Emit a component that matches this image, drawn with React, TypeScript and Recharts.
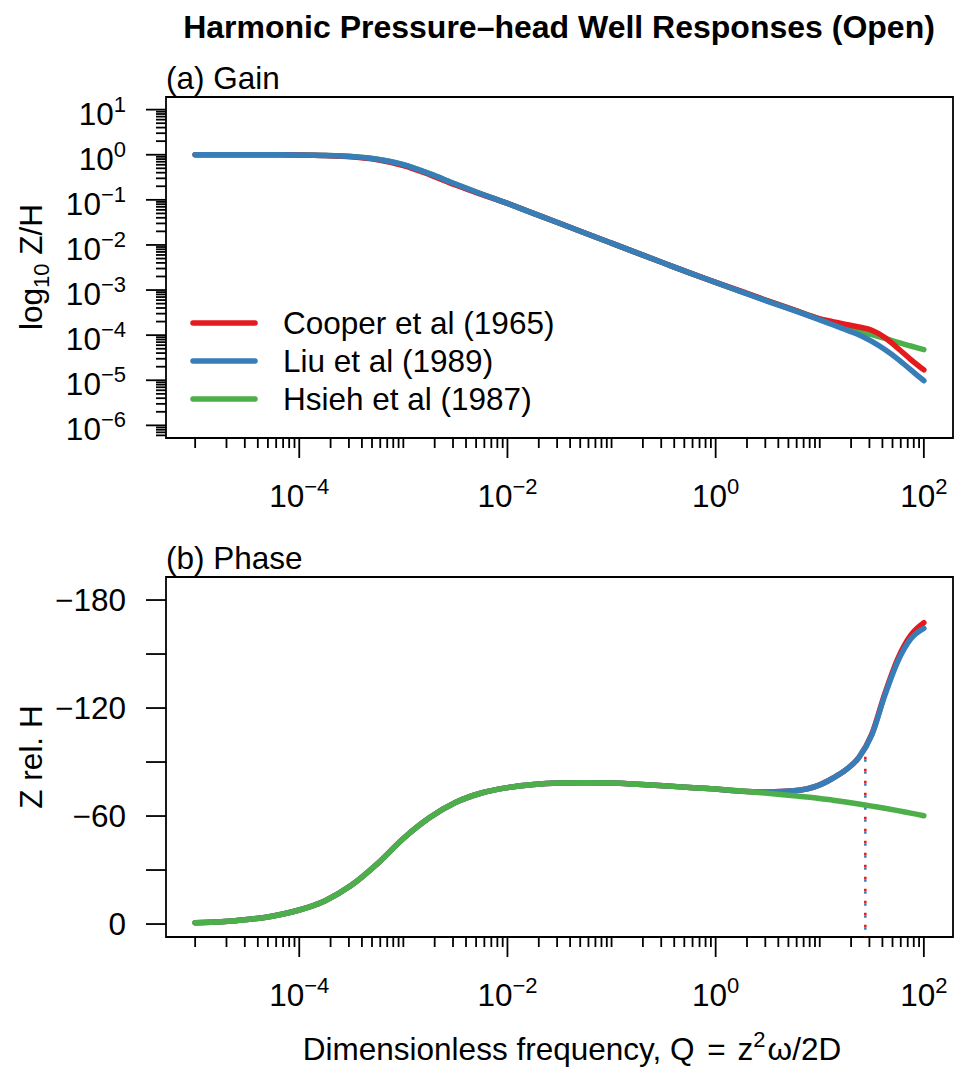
import React from 'react';
import {
  LineChart,
  Line,
  XAxis,
  YAxis,
  ReferenceArea,
  ReferenceLine,
  Legend,
} from 'recharts';

// log10 of dimensionless frequency Q
const logQ = [
  -5, -4.75, -4.5, -4.25, -4, -3.75, -3.5, -3.25, -3, -2.75, -2.5, -2.25, -2,
  -1.75, -1.5, -1.25, -1, -0.75, -0.5, -0.25, 0, 0.25, 0.5, 0.75, 1,
  1.125, 1.25, 1.375, 1.5, 1.625, 1.75, 1.875, 2,
];

// log10 gain Z/H
const cooperGain = [
  0, 0, 0, -0.002, -0.006, -0.018, -0.045, -0.11, -0.24, -0.44, -0.67, -0.88, -1.08,
  -1.3, -1.52, -1.74, -1.96, -2.18, -2.4, -2.62, -2.83, -3.03, -3.24, -3.44, -3.64,
  -3.7, -3.76, -3.82, -3.89, -4.05, -4.29, -4.54, -4.77,
];
const liuGain = [
  0, 0, 0, -0.002, -0.005, -0.015, -0.04, -0.1, -0.22, -0.42, -0.65, -0.87, -1.08,
  -1.3, -1.52, -1.74, -1.96, -2.18, -2.4, -2.62, -2.83, -3.04, -3.25, -3.45, -3.66,
  -3.77, -3.88, -3.99, -4.14, -4.32, -4.53, -4.77, -5.01,
];
const hsiehGain = [
  0, 0, 0, -0.002, -0.005, -0.015, -0.04, -0.1, -0.22, -0.42, -0.65, -0.87, -1.08,
  -1.3, -1.52, -1.74, -1.96, -2.18, -2.4, -2.62, -2.83, -3.04, -3.24, -3.44, -3.64,
  -3.73, -3.82, -3.91, -3.99, -4.07, -4.16, -4.24, -4.32,
];

// phase of Z relative to H, degrees
const cooperPhase = [
  -0.7, -1.3, -2.5, -4.5, -7.8, -13, -21.5, -33.5, -47.5, -59, -67.5, -72.8, -75.8,
  -77.5, -78.3, -78.5, -78.3, -77.6, -76.8, -75.9, -75, -73.8, -73.4, -74, -77.3,
  -81, -85.6, -92.5, -105.5, -128, -147.5, -160.5, -167.4,
];
const liuPhase = [
  -0.7, -1.3, -2.5, -4.5, -7.8, -13, -21.5, -33.5, -47.5, -59, -67.5, -72.8, -75.8,
  -77.5, -78.3, -78.5, -78.3, -77.6, -76.8, -75.9, -75, -73.8, -73.4, -74, -77.3,
  -81, -85.6, -92.5, -105, -127, -146, -158.5, -164.3,
];
const hsiehPhase = [
  -0.7, -1.3, -2.5, -4.5, -7.8, -13, -21.5, -33.5, -47.5, -59, -67.5, -72.8, -75.8,
  -77.5, -78.3, -78.5, -78.3, -77.6, -76.8, -75.9, -75, -73.9, -72.7, -71.3, -69.8,
  -68.8, -67.8, -66.7, -65.5, -64.3, -63, -61.6, -60.2,
];

// dotted marker on the phase panel
const markerQ = 27.4;
const cooperMarkerTop = -93;
const liuMarkerTop = -91.5;

const seriesNames = ['Cooper et al (1965)', 'Liu et al (1989)', 'Hsieh et al (1987)'];
const seriesColors = ['#E41A1C', '#377EB8', '#4DAF4A'];

const xDecades = [-5, -4, -3, -2, -1, 0, 1];
const xLabelExps = [-4, -2, 0, 2];
const gainDecades = [-7, -6, -5, -4, -3, -2, -1, 0];
const gainLabelExps = [-6, -5, -4, -3, -2, -1, 0, 1];
const phaseTicks = [-180, -150, -120, -90, -60, -30, 0];
const phaseLabels = [-180, -120, -60, 0];

const X_DOMAIN = [10 ** -5.28, 10 ** 2.28];
const GAIN_DOMAIN = [10 ** -6.28, 10 ** 1.28];
const PHASE_DOMAIN = [-192.8, 7.2];

const FONT = '"Liberation Sans", Arial, Helvetica, sans-serif';
const FS = 31.5;
const SUP = 22;

const inDomain = (v: number, d: number[]) => v >= d[0] && v <= d[1];

const xTicks: number[] = [];
xDecades.forEach((e) => {
  for (let k = 1; k <= 9; k++) xTicks.push(k * 10 ** e);
});
xTicks.push(100);

const gainTicks: number[] = [];
gainDecades.forEach((e) => {
  for (let k = 1; k <= 9; k++) {
    const v = k * 10 ** e;
    if (inDomain(v, GAIN_DOMAIN)) gainTicks.push(v);
  }
});
gainTicks.push(10);

const gainData = logQ.map((lq, i) => ({
  q: 10 ** lq,
  cooper: 10 ** cooperGain[i],
  liu: 10 ** liuGain[i],
  hsieh: 10 ** hsiehGain[i],
}));

const phaseData = logQ.map((lq, i) => ({
  q: 10 ** lq,
  cooper: cooperPhase[i],
  liu: liuPhase[i],
  hsieh: hsiehPhase[i],
}));

const expOf = (v: number) => {
  const l = Math.log10(v);
  const r = Math.round(l);
  return Math.abs(l - r) < 1e-6 ? r : null;
};
const expText = (e: number) => `${e < 0 ? '\u2212' : ''}${Math.abs(e)}`;

const XTick = (props: any) => {
  const { x, y, payload } = props;
  const e = expOf(payload.value);
  const labelled = e !== null && xLabelExps.includes(e);
  return (
    <g>
      <line x1={x} x2={x} y1={y} y2={y + (labelled ? 20 : 10)} stroke="#000" strokeWidth={1.8} />
      {labelled && (
        <text x={x} y={y + 69} textAnchor="middle" fontSize={FS} fontFamily={FONT} fill="#000">
          10
          <tspan dy={-13} fontSize={SUP}>{expText(e as number)}</tspan>
        </text>
      )}
    </g>
  );
};

const GainTick = (props: any) => {
  const { x, y, payload } = props;
  const e = expOf(payload.value);
  const labelled = e !== null && gainLabelExps.includes(e);
  return (
    <g>
      <line x1={x} x2={x - (labelled ? 20 : 10)} y1={y} y2={y} stroke="#000" strokeWidth={1.8} />
      {labelled && (
        <text x={x - 40} y={y + 15} textAnchor="end" fontSize={FS} fontFamily={FONT} fill="#000">
          10
          <tspan dy={-13} fontSize={SUP}>{expText(e as number)}</tspan>
        </text>
      )}
    </g>
  );
};

const PhaseTick = (props: any) => {
  const { x, y, payload } = props;
  const v = payload.value;
  return (
    <g>
      <line x1={x} x2={x - 20} y1={y} y2={y} stroke="#000" strokeWidth={1.8} />
      {phaseLabels.includes(v) && (
        <text x={x - 40} y={y + 11} textAnchor="end" fontSize={FS} fontFamily={FONT} fill="#000">
          {v < 0 ? `\u2212${Math.abs(v)}` : v}
        </text>
      )}
    </g>
  );
};

const GainLegend = () => (
  <svg width={440} height={120} style={{ display: 'block' }}>
    {seriesNames.map((name, i) => (
      <g key={name}>
        <line
          x1={13}
          x2={75}
          y1={23 + i * 38}
          y2={23 + i * 38}
          stroke={seriesColors[i]}
          strokeWidth={5.5}
          strokeLinecap="round"
        />
        <text x={103} y={34 + i * 38} fontSize={FS} fontFamily={FONT} fill="#000">
          {name}
        </text>
      </g>
    ))}
  </svg>
);

const xAxisProps = {
  dataKey: 'q',
  type: 'number' as const,
  scale: 'log' as const,
  domain: X_DOMAIN,
  allowDataOverflow: true,
  ticks: xTicks,
  interval: 0 as const,
  tick: XTick,
  tickLine: false,
  axisLine: false,
  tickSize: 0,
  tickMargin: 0,
};

const lineProps = {
  type: 'monotone' as const,
  dot: false,
  activeDot: false,
  strokeWidth: 5.5,
  strokeLinecap: 'round' as const,
  isAnimationActive: false,
};

const App: React.FC = () => {
  return (
    <div style={{ position: 'absolute', left: 0, top: 0, width: 958, height: 1086, background: '#fff' }}>
      <div style={{ position: 'absolute', left: 0, top: 0 }}>
        <LineChart width={958} height={520} data={gainData} margin={{ top: 97, right: 5, bottom: 0, left: 0 }}>
          <XAxis {...xAxisProps} height={82} />
          <YAxis
            type="number"
            scale="log"
            domain={GAIN_DOMAIN}
            allowDataOverflow
            ticks={gainTicks}
            interval={0}
            tick={GainTick}
            tickLine={false}
            axisLine={false}
            tickSize={0}
            tickMargin={0}
            width={166}
          />
          <ReferenceArea
            x1={X_DOMAIN[0]}
            x2={X_DOMAIN[1]}
            y1={GAIN_DOMAIN[0]}
            y2={GAIN_DOMAIN[1]}
            fill="none"
            fillOpacity={0}
            stroke="#000"
            strokeWidth={1.8}
            ifOverflow="visible"
          />
          <Line {...lineProps} dataKey="hsieh" name={seriesNames[2]} stroke={seriesColors[2]} />
          <Line {...lineProps} dataKey="cooper" name={seriesNames[0]} stroke={seriesColors[0]} />
          <Line {...lineProps} dataKey="liu" name={seriesNames[1]} stroke={seriesColors[1]} />
          <Legend
            layout="vertical"
            align="center"
            verticalAlign="middle"
            wrapperStyle={{ left: 180, top: 300, width: 440, height: 120 }}
            content={GainLegend}
          />
        </LineChart>
      </div>

      <div style={{ position: 'absolute', left: 0, top: 520 }}>
        <LineChart width={958} height={566} data={phaseData} margin={{ top: 57, right: 5, bottom: 0, left: 0 }}>
          <XAxis {...xAxisProps} height={149} />
          <YAxis
            type="number"
            domain={PHASE_DOMAIN}
            reversed
            allowDataOverflow
            ticks={phaseTicks}
            interval={0}
            tick={PhaseTick}
            tickLine={false}
            axisLine={false}
            tickSize={0}
            tickMargin={0}
            width={166}
          />
          <ReferenceArea
            x1={X_DOMAIN[0]}
            x2={X_DOMAIN[1]}
            y1={PHASE_DOMAIN[0]}
            y2={PHASE_DOMAIN[1]}
            fill="none"
            fillOpacity={0}
            stroke="#000"
            strokeWidth={1.8}
            ifOverflow="visible"
          />
          <ReferenceLine
            segment={[{ x: markerQ, y: cooperMarkerTop }, { x: markerQ, y: PHASE_DOMAIN[1] }]}
            stroke={seriesColors[0]}
            strokeWidth={2.5}
            strokeDasharray="2.5 9.5"
            ifOverflow="visible"
          />
          <ReferenceLine
            segment={[{ x: markerQ, y: liuMarkerTop }, { x: markerQ, y: PHASE_DOMAIN[1] }]}
            stroke={seriesColors[1]}
            strokeWidth={2.5}
            strokeDasharray="2.5 9.5"
            ifOverflow="visible"
          />
          <Line {...lineProps} dataKey="cooper" name={seriesNames[0]} stroke={seriesColors[0]} />
          <Line {...lineProps} dataKey="liu" name={seriesNames[1]} stroke={seriesColors[1]} />
          <Line {...lineProps} dataKey="hsieh" name={seriesNames[2]} stroke={seriesColors[2]} />
        </LineChart>
      </div>

      <svg
        width={958}
        height={1086}
        style={{ position: 'absolute', left: 0, top: 0, pointerEvents: 'none' }}
        fontFamily={FONT}
      >
        <text x={559} y={38} textAnchor="middle" fontSize={32} fontWeight="bold" fill="#000">
          Harmonic Pressure–head Well Responses (Open)
        </text>
        <text x={166} y={89} fontSize={FS} fill="#000">(a) Gain</text>
        <text x={166} y={569} fontSize={FS} fill="#000">(b) Phase</text>
        <text transform="translate(42,267) rotate(-90)" textAnchor="middle" fontSize={FS} fill="#000">
          log<tspan dy={7} fontSize={SUP}>10</tspan>
          <tspan dy={-7}> Z/H</tspan>
        </text>
        <text transform="translate(42,757) rotate(-90)" textAnchor="middle" fontSize={FS} fill="#000">
          Z rel. H
        </text>
        <text x={572} y={1060} textAnchor="middle" fontSize={FS} fill="#000">
          Dimensionless frequency, Q <tspan dx={4}>=</tspan>
          <tspan dx={12}>z</tspan>
          <tspan dy={-13} fontSize={SUP}>2</tspan>
          <tspan dy={13} dx={2}>ω/2D</tspan>
        </text>
      </svg>
    </div>
  );
};

export default App;
